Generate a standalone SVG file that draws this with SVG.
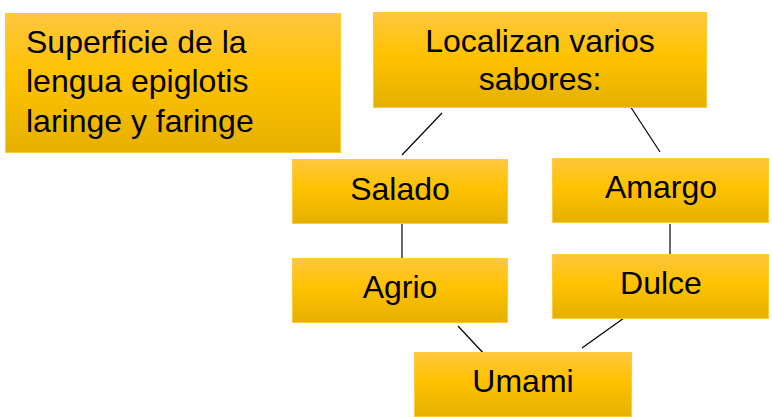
<svg xmlns="http://www.w3.org/2000/svg" width="772" height="417" viewBox="0 0 772 417">
<defs>
<linearGradient id="g" x1="0" y1="0" x2="0" y2="1">
<stop offset="0" stop-color="#FFC73F"/>
<stop offset="0.45" stop-color="#FFC200"/>
<stop offset="1" stop-color="#E5B000"/>
</linearGradient>
</defs>
<style>
.box{fill:url(#g);stroke:#FFCB3A;stroke-width:1}
.t{font-family:"Liberation Sans",Arial,sans-serif;font-size:32px;fill:#000}
.c{text-anchor:middle}
.ln{stroke:#000;stroke-width:1.2;fill:none}
.lv{stroke:#444;stroke-width:1.6;fill:none}
</style>
<rect width="772" height="417" fill="#fff"/>
<g id="connectors">
<line class="ln" x1="442" y1="113" x2="402" y2="155"/>
<line class="ln" x1="630" y1="106" x2="660" y2="152"/>
<line class="lv" x1="402" y1="222" x2="402" y2="262"/>
<line class="lv" x1="670" y1="224" x2="670" y2="258"/>
<line class="ln" x1="458" y1="326" x2="486" y2="356"/>
<line class="ln" x1="624" y1="318" x2="582" y2="348"/>
</g>
<g id="superficie">
<rect class="box" x="5.5" y="13.5" width="335" height="139"/>
<text class="t" x="26" y="53">Superficie de la</text>
<text class="t" x="26" y="92">lengua epiglotis</text>
<text class="t" x="26" y="132">laringe y faringe</text>
</g>
<g id="localizan">
<rect class="box" x="373.5" y="12.5" width="333" height="95"/>
<text class="t c" x="540" y="52">Localizan varios</text>
<text class="t c" x="540" y="90">sabores:</text>
</g>
<g id="salado">
<rect class="box" x="292.5" y="159.5" width="215" height="64"/>
<text class="t c" x="400" y="200">Salado</text>
</g>
<g id="amargo">
<rect class="box" x="552.5" y="158.5" width="216" height="64"/>
<text class="t c" x="661" y="198">Amargo</text>
</g>
<g id="agrio">
<rect class="box" x="292.5" y="258.5" width="215" height="64"/>
<text class="t c" x="400" y="298">Agrio</text>
</g>
<g id="dulce">
<rect class="box" x="552.5" y="254.5" width="216" height="64"/>
<text class="t c" x="661" y="294">Dulce</text>
</g>
<g id="umami">
<rect class="box" x="414.5" y="352.5" width="217" height="64"/>
<text class="t c" x="523" y="392">Umami</text>
</g>
</svg>
